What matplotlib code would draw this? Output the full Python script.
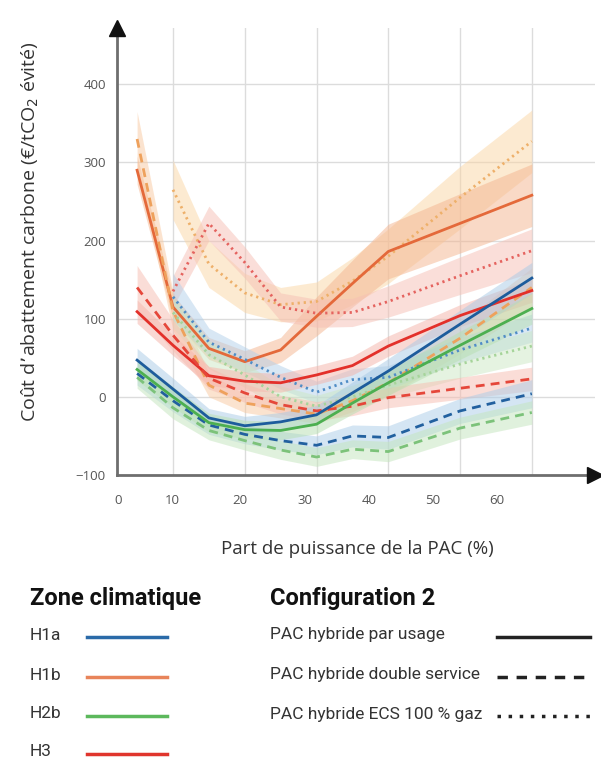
import numpy as np
import matplotlib.pyplot as plt
from matplotlib.lines import Line2D

nan = np.nan

# part de puissance de la PAC (%)
pct = [5, 10, 15, 20, 25, 30, 35, 40, 50, 60]

# coût d'abattement (€/tCO2 évité) - usage / double service / ECS 100 % gaz
h1a_usage = [47, 10, -27, -37, -32, -23, 5, 33, 93, 152]
h1a_double = [30, -5, -36, -48, -56, -62, -50, -52, -18, 4]
h1a_ecs = [nan, 128, 70, 48, 25, 6, 22, 25, 60, 88]

h1b_usage = [290, 115, 62, 45, 60, 103, 145, 186, 222, 258]
h1b_double = [330, 110, 15, -8, -15, -22, -5, 18, 75, 140]
h1b_ecs = [nan, 265, 170, 133, 118, 122, 148, 180, 255, 327]

h2b_usage = [35, 0, -33, -42, -43, -35, -8, 18, 66, 113]
h2b_double = [25, -14, -43, -56, -68, -77, -67, -70, -40, -20]
h2b_ecs = [nan, 108, 54, 28, 0, -12, 0, 15, 42, 65]

h3_usage = [109, 66, 27, 20, 18, 28, 40, 65, 104, 136]
h3_double = [140, 79, 24, 5, -10, -18, -12, -1, 11, 23]
h3_ecs = [nan, 135, 222, 172, 115, 107, 108, 122, 155, 187]

# demi-largeur des bandes d'incertitude
h1a_usage_band = [15, 14, 12, 12, 12, 12, 14, 16, 18, 20]
h1a_double_band = [15, 14, 12, 12, 12, 12, 14, 15, 16, 18]
h1a_ecs_band = [nan, 30, 18, 16, 15, 14, 14, 15, 16, 18]
h1b_usage_band = [18, 16, 14, 14, 16, 25, 30, 35, 38, 40]
h1b_double_band = [35, 25, 15, 12, 12, 12, 14, 16, 20, 25]
h1b_ecs_band = [nan, 38, 30, 25, 22, 25, 30, 35, 40, 40]
h2b_usage_band = [14, 13, 12, 12, 12, 12, 14, 16, 18, 20]
h2b_double_band = [14, 14, 12, 12, 12, 12, 12, 13, 14, 15]
h2b_ecs_band = [nan, 20, 18, 16, 14, 14, 15, 16, 18, 20]
h3_usage_band = [15, 13, 12, 12, 12, 12, 12, 13, 14, 15]
h3_double_band = [28, 20, 14, 12, 12, 12, 12, 13, 14, 15]
h3_ecs_band = [nan, 20, 22, 20, 18, 18, 18, 20, 24, 28]

zones = ['H1a', 'H1b', 'H2b', 'H3']
configs = ['PAC hybride par usage', 'PAC hybride double service', 'PAC hybride ECS 100 % gaz']
yticks = [-100, 0, 100, 200, 300, 400]
xtick_labels = ['0', '10', '20', '30', '40', '50', '60']
xtick_label_pos = [2.3, 9.9, 19.3, 28.4, 37.4, 46.2, 55.1]

zone_colors = {'H1a': '#2a6aa8', 'H1b': '#e8845a', 'H2b': '#5cb85c', 'H3': '#e0352d'}
solid = '-'
dashed = (0, (3.2, 2.2))
dotted = (0, (0.8, 1.4))

series = [
    (h1b_ecs, h1b_ecs_band, '#eeb06a', '#fbd6a4', dotted),
    (h1b_usage, h1b_usage_band, '#e4693a', '#f4b48e', solid),
    (h1b_double, h1b_double_band, '#eea15c', '#f9c9a0', dashed),
    (h3_ecs, h3_ecs_band, '#e5635f', '#f6bfb4', dotted),
    (h1a_ecs, h1a_ecs_band, '#4f8cc6', '#b2d0ea', dotted),
    (h2b_ecs, h2b_ecs_band, '#a6d49a', '#cce8c4', dotted),
    (h3_usage, h3_usage_band, '#e3302a', '#f5b3a8', solid),
    (h3_double, h3_double_band, '#e5473a', '#f7bcb0', dashed),
    (h1a_usage, h1a_usage_band, '#1d5c9c', '#a8cae6', solid),
    (h1a_double, h1a_double_band, '#22609f', '#aacce8', dashed),
    (h2b_usage, h2b_usage_band, '#4caf50', '#b6dfb0', solid),
    (h2b_double, h2b_double_band, '#7cc27a', '#c3e5bc', dashed),
]

W, H = 601, 760
fig = plt.figure(figsize=(W / 100, H / 100), dpi=100)
ax = fig.add_axes([117 / W, 1 - 475 / H, (595 - 117) / W, (475 - 28) / H])
ax.set_xlim(2.2, 68.8)
ax.set_ylim(-97.5, 472)

x = np.array(pct)
for vals, band, col, bcol, ls in series:
    v = np.array(vals, dtype=float)
    b = np.array(band, dtype=float)
    ax.fill_between(x, v - b, v + b, color=bcol, alpha=0.5, lw=0, zorder=2)
for vals, band, col, bcol, ls in series:
    ax.plot(x, vals, color=col, lw=2, linestyle=ls, zorder=3)

# grille
ax.set_yticks(yticks)
ax.set_yticklabels([str(t).replace('-', '\u2212') for t in yticks])
ax.set_xticks([10, 20, 30, 40, 50, 60], minor=True)
ax.set_xticks(xtick_label_pos)
ax.set_xticklabels(xtick_labels)
ax.grid(axis='y', color='#dcdcdc', lw=1, zorder=0)
ax.grid(axis='x', which='minor', color='#dcdcdc', lw=1, zorder=0)
ax.tick_params(which='both', length=0)
ax.tick_params(axis='y', pad=8, labelsize=9.5, labelcolor='#555555')
ax.tick_params(axis='x', pad=14, labelsize=9.5, labelcolor='#555555')
for lab in ax.get_xticklabels() + ax.get_yticklabels():
    lab.set_family('Open Sans')

for s in ['top', 'right']:
    ax.spines[s].set_visible(False)
for s in ['left', 'bottom']:
    ax.spines[s].set_color('#6e6e6e')
    ax.spines[s].set_linewidth(2)
ax.plot([0], [1], marker='^', ms=11, color='#111111', transform=ax.transAxes, clip_on=False, zorder=5)
ax.plot([1], [0], marker='>', ms=11, color='#111111', transform=ax.transAxes, clip_on=False, zorder=5)

fig.text(30 / W, 1 - 232 / H, 'Coût d\u2019abattement carbone (€/tCO$_2$ évité)', rotation=90,
         ha='center', va='center', fontsize=14, color='#333333', family='Open Sans')
fig.text(357 / W, 1 - 549 / H, 'Part de puissance de la PAC (%)', ha='center', va='center',
         fontsize=13.5, color='#333333', family='Open Sans')

# légende
fig.text(30 / W, 1 - 598 / H, 'Zone climatique', ha='left', va='center', fontsize=17,
         fontweight='bold', family='Roboto', color='#111111')
fig.text(270 / W, 1 - 598 / H, 'Configuration 2', ha='left', va='center', fontsize=17,
         fontweight='bold', family='Roboto', color='#111111')
row_y = [635, 675, 714, 752]
for z, yy in zip(zones, row_y):
    fig.text(30 / W, 1 - yy / H, z, ha='left', va='center', fontsize=12.5, family='Roboto', color='#333333')
    fig.add_artist(Line2D([87 / W, 167 / W], [1 - (yy + 2) / H] * 2, color=zone_colors[z], lw=2.5))
for c, yy, ls in zip(configs, row_y, [solid, (0, (3, 2.5)), (0, (1, 2.2))]):
    fig.text(270 / W, 1 - yy / H, c, ha='left', va='center', fontsize=12.5, family='Roboto', color='#333333')
    fig.add_artist(Line2D([497 / W, 590 / W], [1 - (yy + 2) / H] * 2, color='#222222', lw=2.5, linestyle=ls))

fig.savefig('out.png', dpi=100, facecolor='white')
